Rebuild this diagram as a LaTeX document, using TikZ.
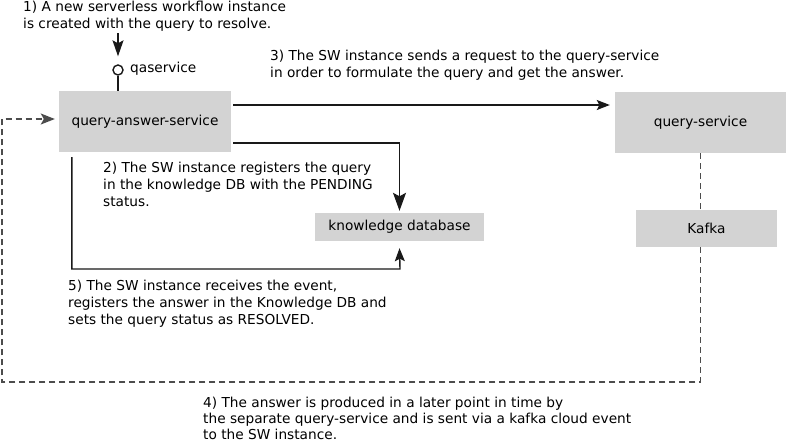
\documentclass[tikz,border=0pt]{standalone}
\usepackage{fontspec}
\setmainfont{DejaVu Sans}
\usetikzlibrary{arrows.meta}
\definecolor{boxgray}{HTML}{D3D3D3}
\begin{document}
\begin{tikzpicture}[x=1pt,y=-1pt,font=\fontsize{13.7}{17}\selectfont,
  svc/.style={fill=boxgray,inner sep=0pt,align=center},
  note/.style={anchor=base west,align=left,inner sep=0pt},
  arr/.style={draw=black!90,line width=1.4pt,-{Stealth[length=13pt,width=10pt,inset=2.5pt]}},
  evt/.style={draw=black!70,line width=1.5pt,dash pattern=on 6pt off 4pt}]
  \useasboundingbox (0,0) rectangle (786,442);
  \node[svc,minimum width=172pt,minimum height=61pt] (qas) at (145,121.5){query-answer-service};
  \node[svc,minimum width=171pt,minimum height=61pt] (qs) at (700.5,122.5){query-service};
  \node[svc,minimum width=169pt,minimum height=28pt] (kdb) at (399.5,227){knowledge database};
  \node[svc,minimum width=141pt,minimum height=37pt] (kafka) at (706.5,228.5){Kafka};
  \node[draw=black!90,line width=1.4pt,circle,minimum size=10pt,inner sep=0pt] (qa) at (118,70){};
  \node[anchor=west,inner sep=0pt] (qal) at (130,68.5){qaservice};
  \coordinate (in1) at (118,33);
  \coordinate (c5) at (400,269);
  \coordinate (bl) at (2,382);
  \node[note] (n1) at (23,28){1) A new serverless workflow instance\\is created with the query to resolve.};
  \node[note] (n3) at (270,77){3) The SW instance sends a request to the query-service\\in order to formulate the query and get the answer.};
  \node[note] (n2) at (103,206){2) The SW instance registers the query\\in the knowledge DB with the PENDING\\status.};
  \node[note] (n5) at (68,324){5) The SW instance receives the event,\\registers the answer in the Knowledge DB and\\sets the query status as RESOLVED.};
  \node[note,font=\fontsize{13.7}{15.8}\selectfont] (n4) at (203,439){4) The answer is produced in a later point in time by\\the separate query-service and is sent via a kafka cloud event\\to the SW instance.};
  \draw[arr,-{Stealth[length=16pt,width=11pt,inset=3pt]},shorten >=8pt] (in1) -- (qa);
  \draw[draw=black!90,line width=1.4pt] (qa) -- (qa |- qas.north);
  \draw[arr,shorten >=7pt] ([xshift=2pt,yshift=16.5pt]qas.east) -- ([xshift=2pt,yshift=16.5pt]qas.east -| qs.west);
  \draw[arr,-{Stealth[length=18pt,width=13pt,inset=3.5pt]},shorten >=2pt] ([xshift=2pt,yshift=-21.5pt]qas.east) -| (kdb.north);
  \draw[arr] ([xshift=13pt,yshift=-5pt]qas.south west) |- (c5) -- ([yshift=-7pt]kdb.south);
  \draw[evt] (qs.south) -- (qs.south |- kafka.north);
  \draw[evt,-{Stealth[length=14pt,width=11pt,inset=3pt]},shorten >=4pt] (qs.south |- kafka.south) -- (qs.south |- bl) -- (bl) |- ([yshift=2.5pt]qas.west);
\end{tikzpicture}
\end{document}
